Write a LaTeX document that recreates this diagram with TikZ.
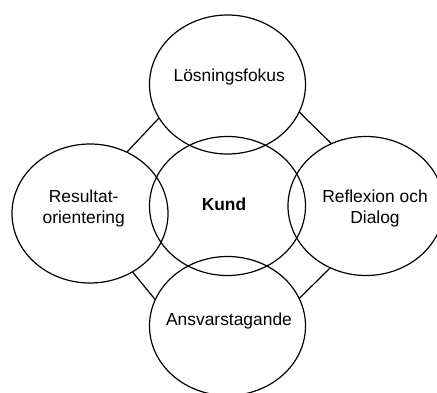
\documentclass[tikz,border=0pt]{standalone}
\usepackage{fontspec}
\setmainfont{Liberation Sans}
\usetikzlibrary{shapes.geometric}

\tikzset{
  ring/.style={draw, ellipse, line width=1.2pt, inner sep=0pt, outer sep=0pt,
               minimum width=156pt, minimum height=139pt},
  caption/.style={align=center, inner sep=0pt, anchor=base,
                  font=\fontsize{17.4}{20.6}\selectfont},
  link/.style={line width=1.2pt},
}

\begin{document}
\begin{tikzpicture}[x=1pt, y=-1pt]
  \useasboundingbox (0,0) rectangle (437,392);

  % the five overlapping ellipses
  \node[ring] (fokus)   at (227.5, 84.5) {};
  \node[ring] (kund)    at (227.5,206)   {};
  \node[ring] (result)  at (90,   213.5) {};
  \node[ring] (dialog)  at (366,  206)   {};
  \node[ring] (ansvar)  at (227.5,326)   {};

  % labels (two-line labels sit on the baseline of their last line)
  \node[caption] (tfokus)  at (229.2, 81)    {Lösningsfokus};
  \node[caption] (tkund)   at (224,  210)    {\bfseries Kund};
  \node[caption] (tresult) at (83.7, 223.3)  {Resultat-\\orientering};
  \node[caption] (tdialog) at (375,  223.3)  {Reflexion och\\Dialog};
  \node[caption] (tansvar) at (229,  325)    {Ansvarstagande};

  % links between the outer ellipses
  \draw[link] (result.59.5)  -- (fokus.206.7);
  \draw[link] (fokus.-21.3)  -- (dialog.119.4);
  \draw[link] (result.-54.6) -- (ansvar.160.7);
  \draw[link] (ansvar.21.2)  -- (dialog.240.9);
\end{tikzpicture}
\end{document}
